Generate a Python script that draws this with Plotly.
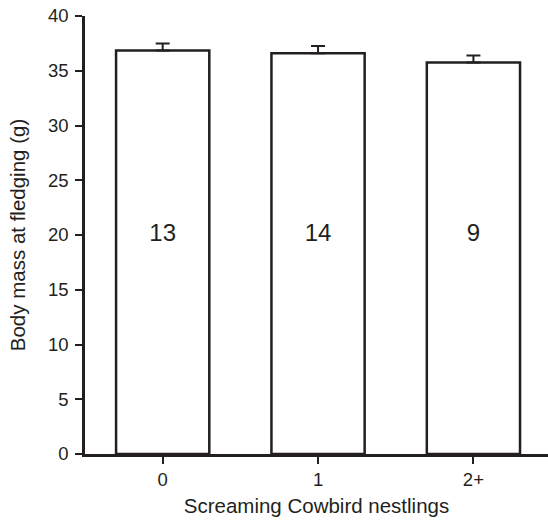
import plotly.graph_objects as go

categories = ["0", "1", "2+"]
body_mass = [36.85, 36.6, 35.75]
errors = [0.65, 0.65, 0.65]
sample_sizes = [13, 14, 9]
y_ticks = [0, 5, 10, 15, 20, 25, 30, 35, 40]

x_pos = list(range(len(categories)))
ink = "#231f20"
font_family = "Liberation Sans, Arial, Helvetica, sans-serif"

fig = go.Figure()
fig.add_trace(go.Bar(
    x=x_pos, y=body_mass, width=0.6,
    marker=dict(color="white", line=dict(color=ink, width=2.5)),
    error_y=dict(type="data", array=errors, symmetric=False, arrayminus=[0] * 3,
                 color=ink, thickness=2, width=7),
    showlegend=False,
))
fig.add_trace(go.Scatter(
    x=x_pos, y=[20] * len(x_pos), mode="text",
    text=[str(n) for n in sample_sizes],
    textfont=dict(size=24, color=ink, family=font_family),
    showlegend=False, hoverinfo="skip",
))

fig.update_layout(
    width=548, height=521,
    margin=dict(l=85, r=0, t=16, b=67),
    plot_bgcolor="white", paper_bgcolor="white",
    font=dict(family=font_family, color=ink, size=18.5),
    xaxis=dict(
        range=[-0.5, 2.48], tickmode="array", tickvals=x_pos, ticktext=categories,
        showline=True, linecolor=ink, linewidth=2.5,
        ticks="outside", ticklen=7, tickwidth=2, tickcolor=ink,
        showgrid=False, zeroline=False,
        title=dict(text="Screaming Cowbird nestlings", font=dict(size=20.5), standoff=10),
    ),
    yaxis=dict(
        range=[0, 40], tickvals=y_ticks,
        showline=True, linecolor=ink, linewidth=2.5,
        ticks="outside", ticklen=7, tickwidth=2, tickcolor=ink,
        ticklabelstandoff=3,
        showgrid=False, zeroline=False,
        title=dict(text="Body mass at fledging (g)", font=dict(size=20.5), standoff=17),
    ),
)

fig.write_html(
    "out.html",
    config={"displayModeBar": False},
    post_script="document.body.style.margin='0';document.body.style.overflow='hidden';",
)
